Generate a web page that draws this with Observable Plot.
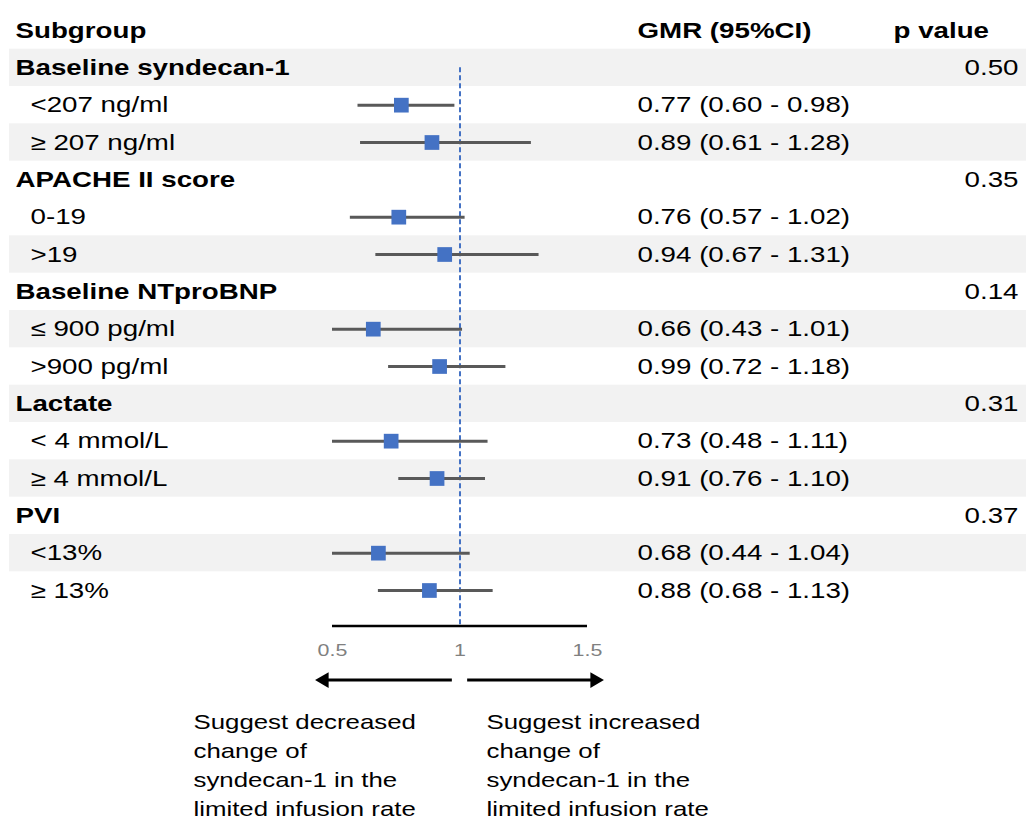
<!DOCTYPE html>
<html>
<head>
<meta charset="utf-8">
<script src="https://cdn.jsdelivr.net/npm/d3@7"></script>
<script src="https://cdn.jsdelivr.net/npm/@observablehq/plot@0.6"></script>
<style>
  html, body { margin: 0; padding: 0; background: #fff; }
  #chart svg { display: block; }
</style>
</head>
<body>
<div id="chart"></div>
<script>
// ---- Data ----
const labels = ["Baseline syndecan-1", "<207 ng/ml", "≥ 207 ng/ml",
                "APACHE II score", "0-19", ">19",
                "Baseline NTproBNP", "≤ 900 pg/ml", ">900 pg/ml",
                "Lactate", "< 4 mmol/L", "≥ 4 mmol/L",
                "PVI", "<13%", "≥ 13%"];
const isHeader = [1,0,0, 1,0,0, 1,0,0, 1,0,0, 1,0,0];
// plotted point estimates (as drawn) and CI bounds
const estimate = [null,0.77,0.89, null,0.76,0.94, null,0.66,0.92, null,0.73,0.91, null,0.68,0.88];
const lowerCI  = [null,0.60,0.61, null,0.57,0.67, null,0.43,0.72, null,0.48,0.76, null,0.44,0.68];
const upperCI  = [null,0.98,1.28, null,1.02,1.31, null,1.01,1.18, null,1.11,1.10, null,1.04,1.13];
const gmrText = ["", "0.77 (0.60 - 0.98)", "0.89 (0.61 - 1.28)",
                 "", "0.76 (0.57 - 1.02)", "0.94 (0.67 - 1.31)",
                 "", "0.66 (0.43 - 1.01)", "0.99 (0.72 - 1.18)",
                 "", "0.73 (0.48 - 1.11)", "0.91 (0.76 - 1.10)",
                 "", "0.68 (0.44 - 1.04)", "0.88 (0.68 - 1.13)"];
const pValues = ["0.50","","", "0.35","","", "0.14","","", "0.31","","", "0.37","",""];
const shaded = [1,0,1, 0,0,1, 0,1,0, 1,0,1, 0,1,0];
const headers = ["Subgroup", "GMR (95%CI)", "p value"];
const xTicks = [0.5, 1, 1.5];
const noteLeft = "Suggest decreased\nchange of\nsyndecan-1 in the\nlimited infusion rate";
const noteRight = "Suggest increased\nchange of\nsyndecan-1 in the\nlimited infusion rate";
const arrows = [{from: 0.97, to: 0.467, dir: -90}, {from: 1.03, to: 1.529, dir: 90}];

// ---- Build table ----
const rows = labels.map((label, k) => ({
  i: k + 1, label, header: isHeader[k], est: estimate[k], lo: lowerCI[k], hi: upperCI[k],
  gmr: gmrText[k], p: pValues[k], shade: shaded[k]
}));
const est = rows.filter(d => d.est != null);
const arrowY = 17.4, axisLineY = 15.95, noteY = 18.17;

const font = "'Liberation Sans', Arial, sans-serif";
const blue = "#4472c4";

const chart = Plot.plot({
  width: 1026, height: 821,
  marginTop: 0, marginLeft: 0, marginRight: 0, marginBottom: 194,
  style: {fontFamily: font, fontSize: "22px", color: "#000", background: "#fff"},
  x: {domain: [0.5, 1.5], range: [332, 587]},
  y: {domain: [0, 15], range: [30, 590], axis: null},
  marks: [
    // alternating bands
    Plot.rect(rows.filter(d => d.shade), {y1: d => d.i - 0.5, y2: d => d.i + 0.5, fill: "#f2f2f2", insetLeft: 9}),
    // reference line at 1
    Plot.ruleX([1], {y1: 1, y2: 16, stroke: blue, strokeWidth: 2, strokeDasharray: "5,3"}),
    // CIs (clipped to axis range)
    Plot.ruleY(est, {y: "i", x1: d => Math.max(d.lo, 0.5), x2: d => Math.min(d.hi, 1.5), stroke: "#595959", strokeWidth: 3}),
    // point estimates
    Plot.dot(est, {x: "est", y: "i", symbol: "square", r: 8.3, fill: blue, stroke: null}),
    // axis line + tick labels
    Plot.ruleY([axisLineY], {x1: 0.5, x2: 1.5, stroke: "#000", strokeWidth: 2.5}),
    Plot.axisX({ticks: xTicks, tickSize: 0, tickPadding: 16, label: null, fontSize: 17, color: "#808080", tickFormat: d => String(d)}),
    // arrows
    Plot.ruleY(arrows, {y: arrowY, x1: "from", x2: "to", stroke: "#000", strokeWidth: 3}),
    Plot.dot(arrows, {x: "to", y: arrowY, symbol: "triangle", r: 5.8, fill: "#000", stroke: null, rotate: "dir"}),
    // header row
    Plot.text([headers[0]], {text: d => d, y: 0, frameAnchor: "left", dx: 15, textAnchor: "start", fontWeight: "bold"}),
    Plot.text([headers[1]], {text: d => d, y: 0, frameAnchor: "left", dx: 637, textAnchor: "start", fontWeight: "bold"}),
    Plot.text([headers[2]], {text: d => d, y: 0, frameAnchor: "left", dx: 893, textAnchor: "start", fontWeight: "bold"}),
    // subgroup labels
    Plot.text(rows.filter(d => d.header), {text: "label", y: "i", frameAnchor: "left", dx: 15, textAnchor: "start", fontWeight: "bold"}),
    Plot.text(rows.filter(d => !d.header), {text: "label", y: "i", frameAnchor: "left", dx: 30, textAnchor: "start"}),
    // GMR text
    Plot.text(rows.filter(d => d.gmr), {text: "gmr", y: "i", frameAnchor: "left", dx: 637, textAnchor: "start"}),
    // p values
    Plot.text(rows.filter(d => d.p), {text: "p", y: "i", frameAnchor: "right", dx: -8, textAnchor: "end"}),
    // notes
    Plot.text([noteLeft], {text: d => d, y: noteY, frameAnchor: "left", dx: 193, textAnchor: "start", lineAnchor: "top", lineHeight: 1.415, fontSize: 20.5}),
    Plot.text([noteRight], {text: d => d, y: noteY, frameAnchor: "left", dx: 486, textAnchor: "start", lineAnchor: "top", lineHeight: 1.415, fontSize: 20.5})
  ]
});

// the reference's text is horizontally wide; widen glyphs about each text anchor
chart.querySelectorAll("text").forEach(t => {
  const tr = t.getAttribute("transform");
  if (tr) {
    t.setAttribute("transform", tr + " scale(1.26,1)");
  } else {
    const x = +(t.getAttribute("x") || 0), y = +(t.getAttribute("y") || 0);
    t.removeAttribute("x"); t.removeAttribute("y");
    t.setAttribute("transform", `translate(${x},${y}) scale(1.26,1)`);
  }
});
document.getElementById("chart").appendChild(chart);
</script>
</body>
</html>
